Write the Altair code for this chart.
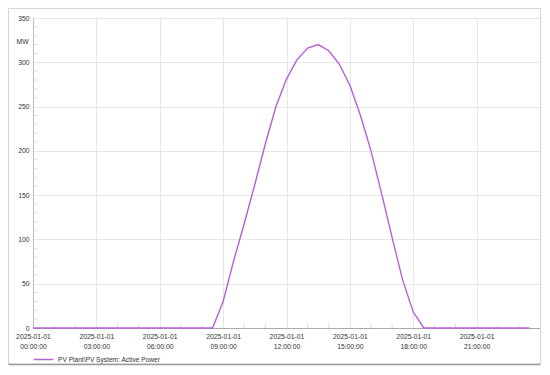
import altair as alt
import pandas as pd

# Half-hourly timestamps for 2025-01-01 (00:00 .. 23:30)
hours = [h * 0.5 for h in range(48)]
times = [f"2025-01-01T{int(h):02d}:{int(round((h % 1) * 60)):02d}:00Z" for h in hours]

# Active power, MW
power_mw = [
    0, 0, 0, 0, 0, 0, 0, 0, 0, 0, 0, 0, 0, 0, 0, 0, 0, 0,   # 00:00 - 08:30
    30, 76, 118, 162, 208, 250, 281, 303, 316, 320,          # 09:00 - 13:30
    313, 298, 274, 240, 200, 152, 102, 54, 18,               # 14:00 - 18:00
    0, 0, 0, 0, 0, 0, 0, 0, 0, 0, 0,                         # 18:30 - 23:30
]
series_name = "PV Plant\\PV System: Active Power"
y_ticks = [0, 50, 100, 150, 200, 250, 300, 350]
x_tick_hours = [0, 3, 6, 9, 12, 15, 18, 21]
# minor tick positions
x_minor_times = [f"2025-01-01T{h:02d}:00:00Z" for h in range(1, 24) if h % 3 != 0]
y_minor_values = [v for v in range(10, 350, 10) if v % 50 != 0]

df = pd.DataFrame({"time": times, "power": power_mw, "series": series_name})
xminor_df = pd.DataFrame({"time": x_minor_times, "power": [0] * len(x_minor_times)})
yminor_df = pd.DataFrame({"time": ["2025-01-01T00:00:00Z"] * len(y_minor_values), "power": y_minor_values})

W, H = 507, 310
purple = "#b660d8"
label_color = "#333333"

x_ticks = [alt.DateTime(year=2025, month=1, date=1, hours=h, utc=True) for h in x_tick_hours]

x_enc = alt.X(
    "time:T",
    scale=alt.Scale(
        type="utc",
        domain=[
            alt.DateTime(year=2025, month=1, date=1, hours=0, utc=True),
            alt.DateTime(year=2025, month=1, date=2, hours=0, utc=True),
        ],
        nice=False,
    ),
    axis=alt.Axis(
        title=None,
        values=x_ticks,
        labelExpr="[utcFormat(datum.value, '%Y-%m-%d'), utcFormat(datum.value, '%H:%M:%S')]",
        labelFontSize=6.8,
        labelColor=label_color,
        labelLineHeight=10,
        labelPadding=5,
        tickSize=0,
        domainColor="#aaaaaa",
        gridColor="#e6e6e6",
        labelAlign="center",
    ),
)
y_enc = alt.Y(
    "power:Q",
    scale=alt.Scale(domain=[0, 350], nice=False),
    axis=alt.Axis(
        title="MW",
        values=y_ticks,
        titleAngle=0,
        titleX=-11,
        titleY=23,
        titleAlign="center",
        titleBaseline="middle",
        titleFontSize=6.8,
        titleFontWeight="normal",
        titleColor=label_color,
        labelFontSize=6.8,
        labelColor=label_color,
        labelPadding=4,
        tickSize=0,
        domainColor="#bbbbbb",
        gridColor="#e6e6e6",
    ),
)

line = alt.Chart(df).mark_line(strokeWidth=1.4).encode(
    x=x_enc,
    y=y_enc,
    color=alt.Color(
        "series:N",
        scale=alt.Scale(range=[purple]),
        legend=alt.Legend(
            title=None,
            orient="none",
            legendX=0,
            legendY=331,
            symbolType="stroke",
            symbolSize=380,
            symbolStrokeWidth=1.5,
            labelFontSize=6.6,
            labelColor=label_color,
            labelOffset=4,
        ),
    ),
)

xminor = alt.Chart(xminor_df).mark_tick(
    orient="vertical", size=4, color="#cccccc", thickness=1, yOffset=-2
).encode(x="time:T", y="power:Q")
yminor = alt.Chart(yminor_df).mark_tick(
    orient="horizontal", size=4, color="#cccccc", thickness=1, xOffset=2
).encode(x="time:T", y="power:Q")

frame_df = pd.DataFrame({"k": [0]})
frame = alt.Chart(frame_df).mark_rect(
    fillOpacity=0, stroke="#d6d6d6", strokeWidth=1
).encode(
    x=alt.value(-24.5),
    x2=alt.value(W + 0.5),
    y=alt.value(-9.5),
    y2=alt.value(H + 36),
)
shadow = alt.Chart(frame_df).mark_rule(color="#9a9a9a", strokeWidth=1.5).encode(
    x=alt.value(-24.5),
    x2=alt.value(W + 0.5),
    y=alt.value(H + 36.5),
)

chart = alt.layer(frame, shadow, xminor, yminor, line).properties(
    width=W,
    height=H,
    autosize=alt.AutoSizeParams(type="none"),
    padding={"left": 25, "top": 10, "right": 1, "bottom": 38},
).configure_view(stroke=None).configure(font="Liberation Sans")

chart.save("out.html", embed_options={"renderer": "svg", "actions": False})
